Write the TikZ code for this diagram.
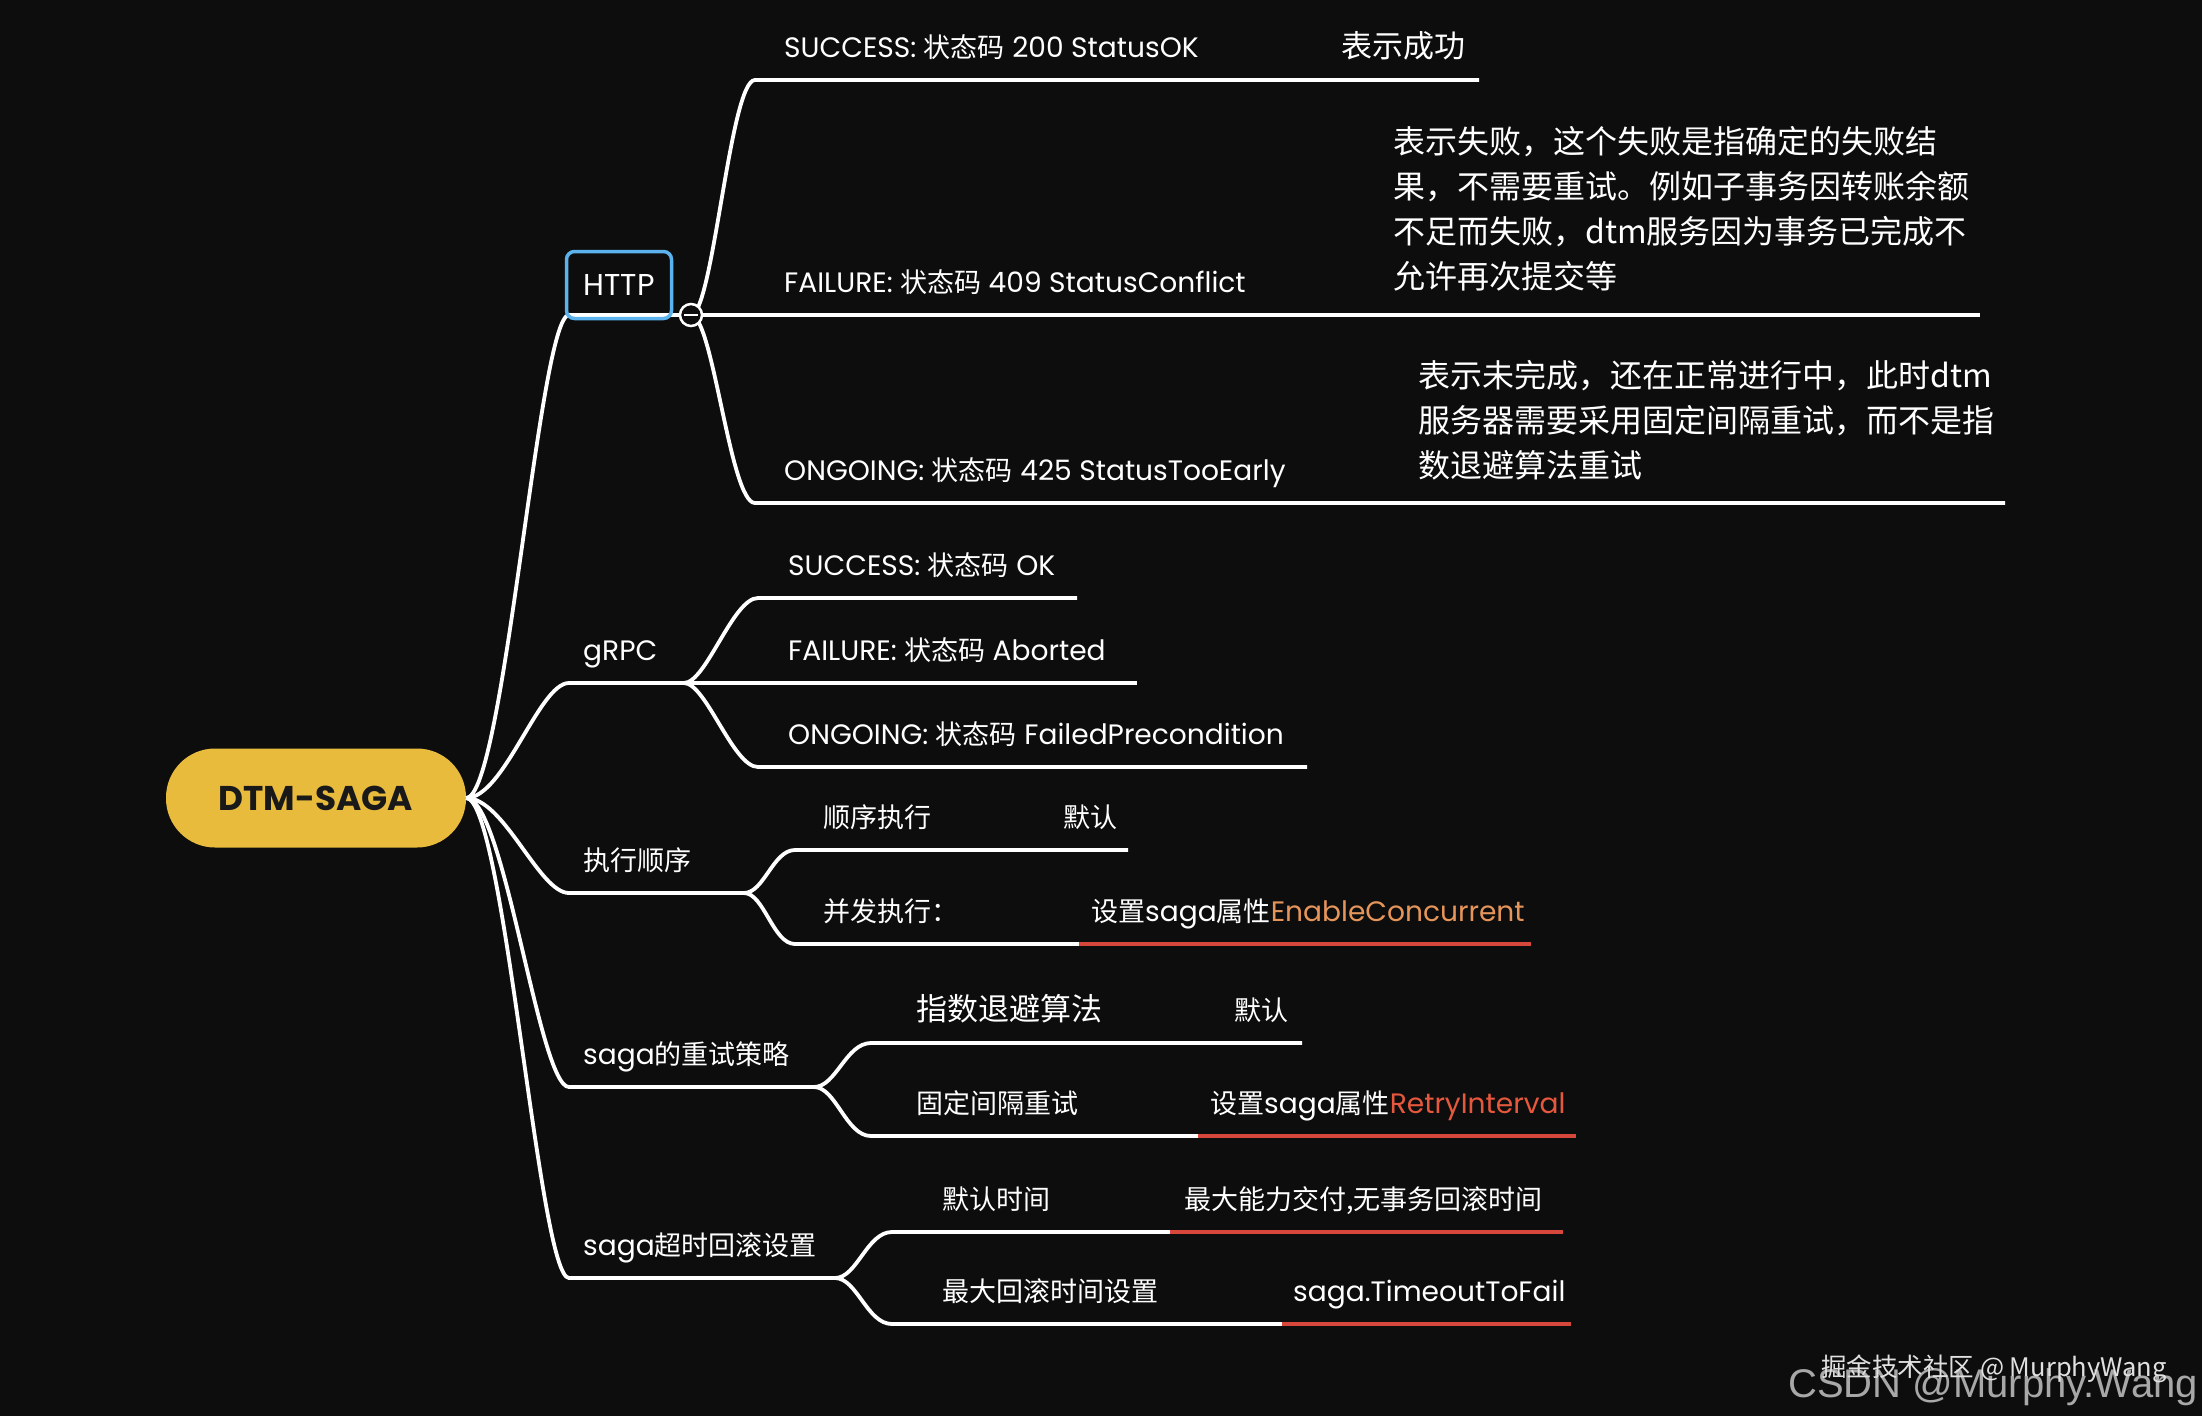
\documentclass[tikz,border=0pt]{standalone}
\usepackage{fontspec}
\setmainfont{Poppins}[Scale=1.04]
\newfontfamily\cjk{Noto Sans CJK SC}
\newfontfamily\wmfont{Liberation Sans}
\usetikzlibrary{calc}
\definecolor{bg}{HTML}{0D0D0D}
\definecolor{redl}{HTML}{D8473B}
\definecolor{gold}{HTML}{E8BB3D}
\definecolor{httpblue}{HTML}{5BB2EC}
\definecolor{orangetxt}{HTML}{E6955A}
\definecolor{redtxt}{HTML}{E5583D}
\definecolor{wmgray}{HTML}{A8A8A8}
\newcommand{\zh}[1]{{\cjk #1}}
\begin{document}
\begin{tikzpicture}[x=1pt,y=-1pt,
  wl/.style={draw=white,line width=3.8pt},
  rl/.style={draw=redl,line width=4pt},
  lbl/.style={anchor=base west,inner sep=0pt,text=white,font=\fontsize{27}{32}\selectfont},
  biglbl/.style={anchor=base west,inner sep=0pt,text=white,font=\fontsize{31}{45}\selectfont\cjk},
  notebox/.style={anchor=base west,inner sep=0pt,text=white,align=left,font=\fontsize{32}{45}\selectfont\cjk},
  rootbox/.style={fill=gold,rounded corners=49pt,minimum width=300pt,minimum height=99pt,inner sep=0pt,text=black!90,font=\fontsize{33}{38}\selectfont\bfseries},
]
\fill[bg] (0,0) rectangle (2202,1416);
\useasboundingbox (0,0) rectangle (2202,1416);

% ---------- coordinates ----------
\coordinate (h0) at (569,315);
\coordinate (hub) at (691,315);
\coordinate (g0) at (569,683);  \coordinate (g1) at (684,683);
\coordinate (e0) at (569,893);  \coordinate (e1) at (744,893);
\coordinate (s0) at (569,1087); \coordinate (s1) at (814,1087);
\coordinate (t0) at (569,1278); \coordinate (t1) at (835,1278);

\coordinate (hs0) at (755,80);  \coordinate (hs1) at (1479,80);
\coordinate (hf1) at (1980,315);
\coordinate (ho0) at (755,503); \coordinate (ho1) at (2005,503);

\coordinate (gs0) at (758,598); \coordinate (gs1) at (1077,598);
\coordinate (gf1) at (1137,683);
\coordinate (go0) at (758,767); \coordinate (go1) at (1307,767);

\coordinate (es0) at (795,850); \coordinate (es1) at (1128,850);
\coordinate (ec0) at (795,944); \coordinate (ecm) at (1079,944); \coordinate (ec1) at (1531,944);

\coordinate (ss0) at (871,1043); \coordinate (ss1) at (1302,1043);
\coordinate (sf0) at (871,1136); \coordinate (sfm) at (1198,1136); \coordinate (sf1) at (1576,1136);

\coordinate (td0) at (892,1232); \coordinate (tdm) at (1170,1232); \coordinate (td1) at (1563,1232);
\coordinate (tm0) at (892,1324); \coordinate (tmm) at (1282,1324); \coordinate (tm1) at (1571,1324);

% ---------- root ----------
\node[rootbox] (root) at (316,798) {DTM-SAGA};

% ---------- level 1 connectors ----------
\draw[wl] (root.east) .. controls +(38,0) and +(-30,0) .. (h0) -- (hub);
\draw[wl] (root.east) .. controls +(38,0) and +(-30,0) .. (g0) -- (g1);
\draw[wl] (root.east) .. controls +(38,0) and +(-30,0) .. (e0) -- (e1);
\draw[wl] (root.east) .. controls +(38,0) and +(-30,0) .. (s0) -- (s1);
\draw[wl] (root.east) .. controls +(38,0) and +(-30,0) .. (t0) -- (t1);

% ---------- HTTP ----------
\draw[wl] (hub) .. controls +(22,0) and +(-25,0) .. (hs0) -- (hs1);
\draw[wl] (hub) -- (hf1);
\draw[wl] (hub) .. controls +(22,0) and +(-25,0) .. (ho0) -- (ho1);
\node[draw=httpblue,line width=3.5pt,rounded corners=8pt,minimum width=105pt,minimum height=67pt,inner sep=0pt,text=white,font=\fontsize{29}{34}\selectfont] (http) at (619,285) {HTTP};
\node[circle,draw=white,fill=bg,line width=2.5pt,minimum size=22pt,inner sep=0pt] (hc) at (hub) {};
\draw[white,line width=2.5pt] ($(hc.center)+(-7,0)$) -- ($(hc.center)+(7,0)$);

\node[lbl] (hsl) at (784,57) {SUCCESS: \zh{状态码} 200 StatusOK};
\node[biglbl] (hsn) at (1341,57) {表示成功};
\node[lbl] (hfl) at (784,292) {FAILURE: \zh{状态码} 409 StatusConflict};
\node[notebox] (hfn) at (1393,288) {表示失败，这个失败是指确定的失败结\\果，不需要重试。例如子事务因转账余额\\不足而失败，dtm服务因为事务已完成不\\允许再次提交等};
\node[lbl] (hol) at (784,480) {ONGOING: \zh{状态码} 425 StatusTooEarly};
\node[notebox] (hon) at (1418,477) {表示未完成，还在正常进行中，此时dtm\\服务器需要采用固定间隔重试，而不是指\\数退避算法重试};

% ---------- gRPC ----------
\node[lbl] (grpc) at (583,660) {gRPC};
\draw[wl] (g1) .. controls +(22,0) and +(-25,0) .. (gs0) -- (gs1);
\draw[wl] (g1) -- (gf1);
\draw[wl] (g1) .. controls +(22,0) and +(-25,0) .. (go0) -- (go1);
\node[lbl] (gsl) at (788,575) {SUCCESS: \zh{状态码} OK};
\node[lbl] (gfl) at (788,660) {FAILURE: \zh{状态码} Aborted};
\node[lbl] (gol) at (788,744) {ONGOING: \zh{状态码} FailedPrecondition};

% ---------- 执行顺序 ----------
\node[lbl] (exec) at (583,870) {\zh{执行顺序}};
\draw[wl] (e1) .. controls +(20,0) and +(-22,0) .. (es0) -- (es1);
\draw[wl] (e1) .. controls +(20,0) and +(-22,0) .. (ec0) -- (ecm);
\draw[rl] (ecm) -- (ec1);
\node[lbl] (esl) at (823,827) {\zh{顺序执行}};
\node[lbl] (esn) at (1063,827) {\zh{默认}};
\node[lbl] (ecl) at (823,921) {\zh{并发执行：}};
\node[lbl] (ecn) at (1091,921) {\zh{设置}saga\zh{属性}\textcolor{orangetxt}{EnableConcurrent}};

% ---------- saga的重试策略 ----------
\node[lbl] (retry) at (583,1064) {saga\zh{的重试策略}};
\draw[wl] (s1) .. controls +(22,0) and +(-25,0) .. (ss0) -- (ss1);
\draw[wl] (s1) .. controls +(22,0) and +(-25,0) .. (sf0) -- (sfm);
\draw[rl] (sfm) -- (sf1);
\node[biglbl] (ssl) at (916,1020) {指数退避算法};
\node[lbl] (ssn) at (1234,1020) {\zh{默认}};
\node[lbl] (sfl) at (916,1113) {\zh{固定间隔重试}};
\node[lbl] (sfn) at (1210,1113) {\zh{设置}saga\zh{属性}\textcolor{redtxt}{RetryInterval}};

% ---------- saga超时回滚设置 ----------
\node[lbl] (tout) at (583,1255) {saga\zh{超时回滚设置}};
\draw[wl] (t1) .. controls +(22,0) and +(-25,0) .. (td0) -- (tdm);
\draw[rl] (tdm) -- (td1);
\draw[wl] (t1) .. controls +(22,0) and +(-25,0) .. (tm0) -- (tmm);
\draw[rl] (tmm) -- (tm1);
\node[lbl] (tdl) at (942,1209) {\zh{默认时间}};
\node[lbl] (tdn) at (1184,1209) {\zh{最大能力交付,无事务回滚时间}};
\node[lbl] (tml) at (942,1301) {\zh{最大回滚时间设置}};
\node[lbl] (tmn) at (1293,1301) {saga.TimeoutToFail};

% ---------- watermarks ----------
\node[anchor=base east,inner sep=0pt,text=wmgray,font=\wmfont\fontsize{40}{40}\selectfont] (wm1) at (2198,1397) {CSDN @Murphy.Wang};
\node[anchor=base east,inner sep=0pt,text=white!88!black,font=\cjk\fontsize{25.5}{26}\selectfont] (wm2) at (2167,1376) {掘金技术社区 @ MurphyWang};
\end{tikzpicture}
\end{document}
